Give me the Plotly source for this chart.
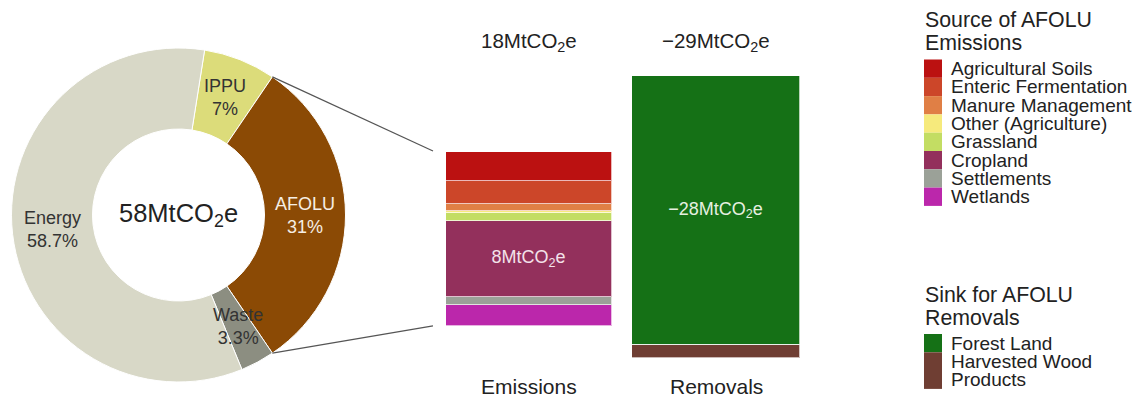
import math
import plotly.graph_objects as go

W, H = 1138, 397
FONT = "Liberation Sans, Arial, sans-serif"

# Share of gross emissions by sector (%), clockwise from the top
sectors = ["IPPU", "AFOLU", "Waste", "Energy"]
sector_share = [7.0, 31.0, 3.3, 58.7]
sector_colors = ["#dcdc7a", "#8b4a05", "#8c8e81", "#d8d8c7"]
sector_text_colors = ["#333333", "#f6eee4", "#333333", "#333333"]
total_emissions = 58  # MtCO2e

# AFOLU emission sources (MtCO2e), listed top to bottom of the stack
sources = ["Agricultural Soils", "Enteric Fermentation", "Manure Management",
           "Other (Agriculture)", "Grassland", "Cropland", "Settlements", "Wetlands"]
source_values = [3.05, 2.32, 0.70, 0.21, 0.86, 7.86, 0.86, 2.15]
source_colors = ["#bb1111", "#cc4629", "#e07f45", "#f6ea7c", "#c3dd63",
                 "#93305c", "#9ba198", "#bb27ab"]

# AFOLU removals by sink (MtCO2e)
sinks = ["Forest Land", "Harvested Wood Products"]
sink_legend_lines = [["Forest Land"], ["Harvested Wood", "Products"]]
sink_values = [-27.9, -1.3]
sink_colors = ["#157116", "#6f3e33"]

bar_names = ["Emissions", "Removals"]


def px(x):
    return x / W


def py(y):
    return 1 - y / H


def mt_label(v):
    return f"{round(v)}MtCO<sub>2</sub>e".replace("-", "\u2212")


# ---- layout geometry (pixels) ----
cx, cy, R = 178.5, 215.0, 167.0
hole = 0.515
rotation = 9.0
k = 9.65  # pixels per MtCO2e for both bars
emis_x0, emis_x1, emis_top = 446, 612, 152
rem_x0, rem_x1, rem_top = 632, 800, 76
emis_total = sum(source_values)
rem_total = sum(sink_values)
emis_bottom = emis_top + emis_total * k
rem_bottom = rem_top + abs(rem_total) * k

fig = go.Figure()

# ---- donut of sector shares ----
fig.add_trace(go.Pie(
    labels=sectors, values=sector_share, sort=False, direction="clockwise",
    rotation=rotation, hole=hole, textinfo="none", hoverinfo="label+percent",
    marker=dict(colors=sector_colors, line=dict(color="white", width=1)),
    domain=dict(x=[px(cx - R), px(cx + R)], y=[py(cy + R), py(cy - R)]),
    showlegend=False,
))

annotations = []
shapes = []

# slice labels placed at each slice's mid angle, halfway across the ring
r_mid = R * (1 + hole) / 2
start = rotation
bounds = []
for name, share, tcol in zip(sectors, sector_share, sector_text_colors):
    span = share * 3.6
    mid = math.radians(start + span / 2)
    x = cx + r_mid * math.sin(mid)
    y = cy - r_mid * math.cos(mid)
    annotations.append(dict(
        x=px(x), y=py(y), xref="paper", yref="paper", showarrow=False,
        text=f"{name}<br>{share:g}%", font=dict(size=18, color=tcol, family=FONT),
        xanchor="center", yanchor="middle",
    ))
    bounds.append(start)
    start += span
bounds.append(start)

annotations.append(dict(
    x=px(cx), y=py(cy), xref="paper", yref="paper", showarrow=False,
    xanchor="center", yanchor="middle",
    text=mt_label(total_emissions), font=dict(size=25.5, color="#222222", family=FONT),
))

# connector lines from the AFOLU slice edges to the emissions bar
afolu = sectors.index("AFOLU")
for ang, yb in ((bounds[afolu], emis_top - 1), (bounds[afolu + 1], emis_bottom)):
    a = math.radians(ang)
    x0 = cx + R * math.sin(a)
    y0 = cy - R * math.cos(a)
    shapes.append(dict(
        type="line", xref="paper", yref="paper",
        x0=px(x0), y0=py(y0), x1=px(emis_x0 - 13), y1=py(yb),
        line=dict(color="#555555", width=1.2),
    ))

# ---- stacked emissions bar (drawn bottom-up) ----
largest = max(source_values)
for name, val, col in reversed(list(zip(sources, source_values, source_colors))):
    fig.add_trace(go.Bar(
        x=[bar_names[0]], y=[val], name=name,
        marker=dict(color=col, line=dict(color="rgba(255,255,255,0.7)", width=1)),
        text=[mt_label(val) if val == largest else ""], textposition="inside",
        insidetextanchor="middle", textfont=dict(size=18, color="#f3e2ea", family=FONT),
        xaxis="x", yaxis="y", showlegend=False,
    ))

# ---- stacked removals bar ----
largest_sink = min(sink_values)
for name, val, col in zip(sinks, sink_values, sink_colors):
    fig.add_trace(go.Bar(
        x=[bar_names[1]], y=[val], name=name,
        marker=dict(color=col, line=dict(color="rgba(255,255,255,0.7)", width=1)),
        text=[mt_label(val) if val == largest_sink else ""], textposition="inside",
        insidetextanchor="middle", textfont=dict(size=18, color="#e6f0e0", family=FONT),
        xaxis="x2", yaxis="y2", showlegend=False,
    ))

# bar totals and captions
for name, total, x0, x1 in ((bar_names[0], emis_total, emis_x0, emis_x1),
                            (bar_names[1], rem_total, rem_x0, rem_x1)):
    xc = px((x0 + x1) / 2)
    annotations.append(dict(x=xc, y=py(42), xref="paper", yref="paper", showarrow=False,
                            xanchor="center", yanchor="middle",
                            text=mt_label(total), font=dict(size=20.5, color="#222222", family=FONT)))
    annotations.append(dict(x=xc, y=py(386), xref="paper", yref="paper", showarrow=False,
                            xanchor="center", yanchor="middle",
                            text=name, font=dict(size=21, color="#222222", family=FONT)))

# ---- legends ----
row_h = 18.3
sw_x0, sw_x1, txt_x = 924, 942, 949


def legend_block(title_lines, title_y, items_top, names_lines, colors):
    for i, t in enumerate(title_lines):
        annotations.append(dict(x=px(sw_x0 - 1), y=py(title_y + i * 23), xref="paper", yref="paper",
                                showarrow=False, xanchor="left", yanchor="middle",
                                text=t, font=dict(size=21.3, color="#222222", family=FONT)))
    y = items_top
    for lines, col in zip(names_lines, colors):
        h = row_h * len(lines)
        shapes.append(dict(type="rect", xref="paper", yref="paper",
                           x0=px(sw_x0), x1=px(sw_x1), y0=py(y + h), y1=py(y),
                           fillcolor=col, line=dict(width=0)))
        for j, line in enumerate(lines):
            annotations.append(dict(x=px(txt_x), y=py(y + (j + 0.5) * row_h), xref="paper", yref="paper",
                                    showarrow=False, xanchor="left", yanchor="middle",
                                    text=line, font=dict(size=19, color="#222222", family=FONT)))
        y += h


legend_block(["Source of AFOLU", "Emissions"], 20, 59.5, [[s] for s in sources], source_colors)
legend_block(["Sink for AFOLU", "Removals"], 295, 334, sink_legend_lines, sink_colors)

hidden = dict(visible=False, fixedrange=True)
fig.update_layout(
    width=W, height=H, margin=dict(l=0, r=0, t=0, b=0),
    paper_bgcolor="white", plot_bgcolor="rgba(0,0,0,0)",
    barmode="stack", bargap=0,
    font=dict(family=FONT, color="#222222"),
    xaxis=dict(domain=[px(emis_x0), px(emis_x1)], range=[-0.5, 0.5], type="category", **hidden),
    yaxis=dict(domain=[py(emis_bottom), py(emis_top)], range=[0, emis_total], **hidden),
    xaxis2=dict(domain=[px(rem_x0), px(rem_x1)], range=[-0.5, 0.5], type="category", anchor="y2", **hidden),
    yaxis2=dict(domain=[py(rem_bottom), py(rem_top)], range=[rem_total, 0], anchor="x2", **hidden),
    annotations=annotations, shapes=shapes, showlegend=False,
)

fig.write_html("out.html")
